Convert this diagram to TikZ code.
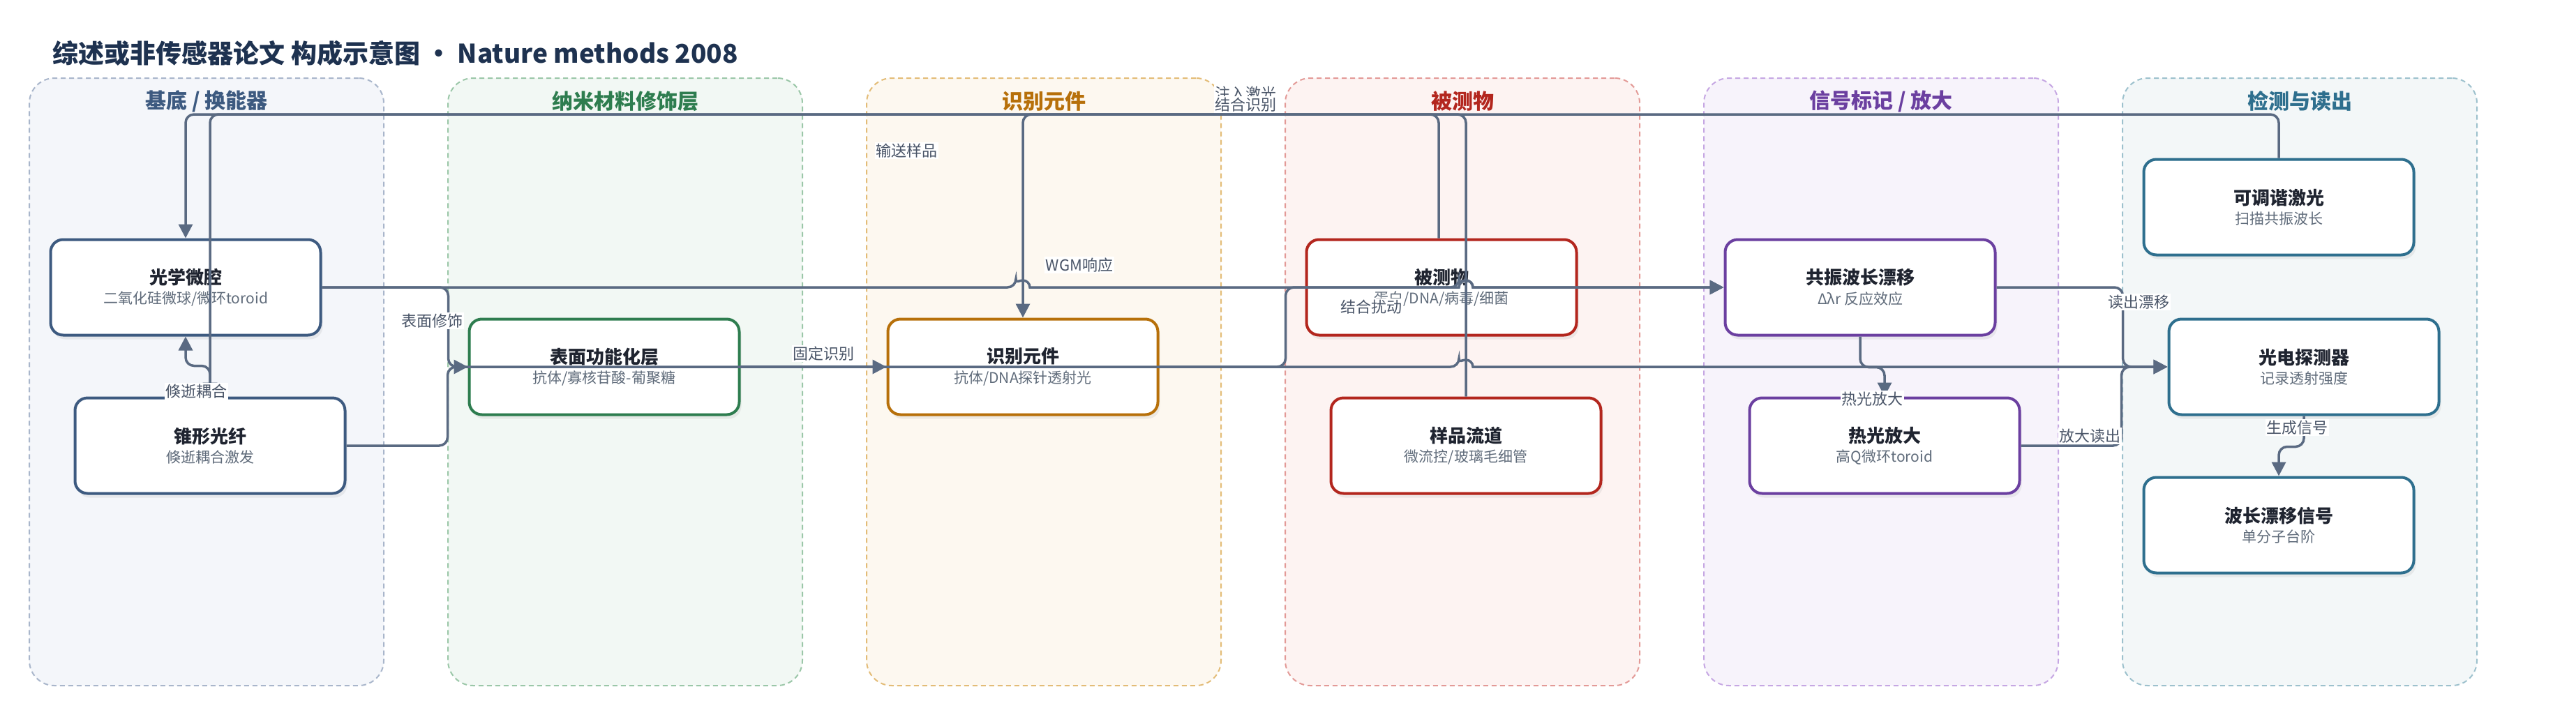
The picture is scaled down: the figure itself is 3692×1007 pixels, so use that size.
\documentclass[tikz,border=0pt]{standalone}
\usepackage{fontspec}
\setmainfont{Noto Sans CJK SC}
\usetikzlibrary{arrows.meta,shadows}

\definecolor{edgecol}{HTML}{5A6A82}
\definecolor{titlecol}{HTML}{1E3250}
\definecolor{boxtxt}{HTML}{1F2430}
\definecolor{subtxt}{HTML}{5F6B7A}
\definecolor{lbltxt}{HTML}{4A5568}
\definecolor{laneAfill}{HTML}{F4F6FA}\definecolor{laneAline}{HTML}{A9B6CB}\definecolor{laneAtext}{HTML}{3D5A80}
\definecolor{laneBfill}{HTML}{F2F8F4}\definecolor{laneBline}{HTML}{9BC7A8}\definecolor{laneBtext}{HTML}{2E7D4F}
\definecolor{laneCfill}{HTML}{FDF8F0}\definecolor{laneCline}{HTML}{E3BC77}\definecolor{laneCtext}{HTML}{B7700A}
\definecolor{laneDfill}{HTML}{FDF3F2}\definecolor{laneDline}{HTML}{E39A97}\definecolor{laneDtext}{HTML}{B3261E}
\definecolor{laneEfill}{HTML}{F7F3FB}\definecolor{laneEline}{HTML}{C6A7E3}\definecolor{laneEtext}{HTML}{6B3FA0}
\definecolor{laneFfill}{HTML}{F3F7F8}\definecolor{laneFline}{HTML}{9DC1CD}\definecolor{laneFtext}{HTML}{2E6F8E}

\newcommand{\boxlabel}[2]{{\fontsize{26}{30}\selectfont\bfseries #1}\\[7pt]{\fontsize{21}{25}\selectfont\color{subtxt}#2}}

\begin{document}
\begin{tikzpicture}[x=1pt,y=-1pt,
  lane/.style={draw, dash pattern=on 7pt off 5pt, line width=2pt, rounded corners=36pt, minimum width=508pt, minimum height=871pt},
  lanetitle/.style={font=\fontsize{30}{36}\selectfont\bfseries},
  box/.style={draw, fill=white, text=boxtxt, line width=4pt, rounded corners=18pt, minimum width=387pt, minimum height=137pt, align=center, drop shadow={shadow xshift=3pt, shadow yshift=-6pt, opacity=0.12}},
  flow/.style={draw=edgecol, line width=3.5pt, rounded corners=12pt, -{Triangle[length=20pt,width=20pt]}},
  lbl/.style={fill=white, text=lbltxt, inner sep=1.5pt, font=\fontsize{22}{26}\selectfont}]

\fill[white] (0,0) rectangle (3692,1007);
\useasboundingbox (0,0) rectangle (3692,1007);

% lanes
\node[lane, draw=laneAline, fill=laneAfill] (laneA) at (296,547.5) {};
\node[lane, draw=laneBline, fill=laneBfill] (laneB) at (896,547.5) {};
\node[lane, draw=laneCline, fill=laneCfill] (laneC) at (1496,547.5) {};
\node[lane, draw=laneDline, fill=laneDfill] (laneD) at (2096,547.5) {};
\node[lane, draw=laneEline, fill=laneEfill] (laneE) at (2696,547.5) {};
\node[lane, draw=laneFline, fill=laneFfill] (laneF) at (3296,547.5) {};

\node[lanetitle, text=laneAtext] (laneAtitle) at (296,145) {基底 / 换能器};
\node[lanetitle, text=laneBtext] (laneBtitle) at (896,145) {纳米材料修饰层};
\node[lanetitle, text=laneCtext] (laneCtitle) at (1496,145) {识别元件};
\node[lanetitle, text=laneDtext] (laneDtitle) at (2096,145) {被测物};
\node[lanetitle, text=laneEtext] (laneEtitle) at (2696,145) {信号标记 / 放大};
\node[lanetitle, text=laneFtext] (laneFtitle) at (3296,145) {检测与读出};

% boxes
\node[box, draw=laneAtext] (cavity) at (266,412) {\boxlabel{光学微腔}{二氧化硅微球/微环toroid}};
\node[box, draw=laneAtext] (taper) at (301,639) {\boxlabel{锥形光纤}{倏逝耦合激发}};
\node[box, draw=laneBtext] (coating) at (866,526) {\boxlabel{表面功能化层}{抗体/寡核苷酸-葡聚糖}};
\node[box, draw=laneCtext] (receptor) at (1466,526) {\boxlabel{识别元件}{抗体/DNA探针透射光}};
\node[box, draw=laneDtext] (analyte) at (2066,412) {\boxlabel{被测物}{蛋白/DNA/病毒/细菌}};
\node[box, draw=laneDtext] (channel) at (2101,639) {\boxlabel{样品流道}{微流控/玻璃毛细管}};
\node[box, draw=laneEtext] (shift) at (2666,412) {\boxlabel{共振波长漂移}{Δλr 反应效应}};
\node[box, draw=laneEtext] (thermal) at (2701,639) {\boxlabel{热光放大}{高Q微环toroid}};
\node[box, draw=laneFtext] (laser) at (3266,297) {\boxlabel{可调谐激光}{扫描共振波长}};
\node[box, draw=laneFtext] (detector) at (3302,526) {\boxlabel{光电探测器}{记录透射强度}};
\node[box, draw=laneFtext] (signal) at (3266,753) {\boxlabel{波长漂移信号}{单分子台阶}};

% connectors
\coordinate (toprail) at (0,164);
\path[flow] (laser.north) -- (laser.north |- toprail) -| (taper.north);
\path[flow] (taper.north) -- ++(0,-44) -| (cavity.south);
\path[flow] (cavity.east) -- ++(181,0) |- (coating.west);
\path[flow] (taper.east) -- ++(145,0) |- (2091,526) [sharp corners] arc[start angle=180,end angle=0,radius=10pt] -- (detector.west);
\path[flow] (coating.east) -- (receptor.west);
\path[flow] (cavity.east) -- (1456,412) [sharp corners] arc[start angle=180,end angle=0,radius=10pt] -- (2091,412) arc[start angle=180,end angle=0,radius=10pt] -- (shift.west);
\path[flow] (channel.north) -- (channel.north |- toprail) -| (cavity.north);
\path[flow] ([xshift=-4pt]analyte.north) -- ([xshift=-4pt]analyte.north |- toprail) -| (receptor.north);
\path[flow] (receptor.east) -- ++(181,0) |- (2091,412) [sharp corners] arc[start angle=180,end angle=0,radius=10pt] -- (shift.west);
\path[flow] (shift.south) -- ++(0,44) -| (thermal.north);
\path[flow] (shift.east) -- ++(181,0) |- (detector.west);
\path[flow] (thermal.east) -- ++(144,0) |- (detector.west);
\path[flow] (detector.south) -- ++(0,44) -| (signal.north);

% labels
\node[lbl] (l-inject) at (1785,134) {注入激光};
\node[lbl] (l-bind) at (1785,150) {结合识别};
\node[lbl] (l-load) at (1299,216) {输送样品};
\node[lbl] (l-wgm) at (1547,380) {WGM响应};
\node[lbl] (l-coat) at (619,460) {表面修饰};
\node[lbl] (l-couple) at (281,561) {倏逝耦合};
\node[lbl] (l-fix) at (1180,507) {固定识别};
\node[lbl] (l-perturb) at (1965,440) {结合扰动};
\node[lbl] (l-thermal) at (2683,572) {热光放大};
\node[lbl] (l-readshift) at (3065,433) {读出漂移};
\node[lbl] (l-readamp) at (2995,625) {放大读出};
\node[lbl] (l-gen) at (3292,613) {生成信号};

\node[anchor=west, text=titlecol, font=\fontsize{37}{44}\selectfont\bfseries] (title) at (72,76) {综述或非传感器论文 构成示意图 • Nature methods 2008};
\end{tikzpicture}
\end{document}
